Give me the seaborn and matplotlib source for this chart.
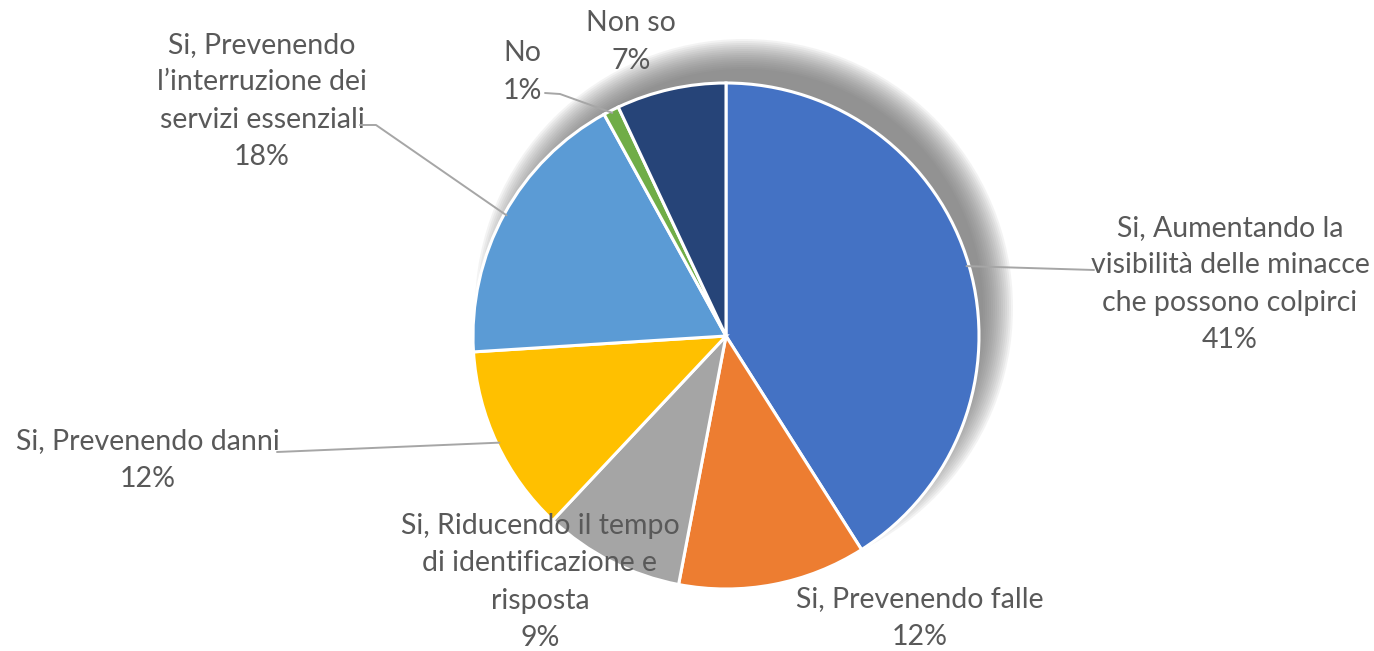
import numpy as np
import matplotlib
matplotlib.use("Agg")
import matplotlib.pyplot as plt
import seaborn as sns
from matplotlib.patches import Circle

# Data
labels = [
    "Si, Aumentando la\nvisibilità delle minacce\nche possono colpirci",
    "Si, Prevenendo falle",
    "Si, Riducendo il tempo\ndi identificazione e\nrisposta",
    "Si, Prevenendo danni",
    "Si, Prevenendo\nl\u2019interruzione dei\nservizi essenziali",
    "No",
    "Non so",
]
values = [41, 12, 9, 12, 18, 1, 7]
colors = ["#4472C4", "#ED7D31", "#A5A5A5", "#FFC000", "#5B9BD5", "#70AD47", "#264478"]

# label positions (pixels, top-left origin) and leader line start (None = no line)
label_pos = [(1230, 284), (920, 618), (540, 582), (148, 460), (262, 101), (522, 72), (631, 42)]
leader = [[(1094, 270)], None, None, [(277, 452)], [(360, 125), (376, 125)], [(545, 93), (560, 94)], None]

W, H = 1374, 651
cx, cy, r = 726, H - 336, 253

sns.set_theme(style="white")
plt.rcParams["font.family"] = ["Lato", "DejaVu Sans"]

fig = plt.figure(figsize=(W / 100, H / 100), dpi=100)
ax = fig.add_axes([0, 0, 1, 1])

# soft shadow behind the pie
sx, sy = cx + 18, cy + 28
for i in range(16):
    rr = r + 16 - i * 2.0
    ax.add_patch(Circle((sx, sy), rr, color="#707070", alpha=0.08, lw=0, zorder=0))

wedges, _ = ax.pie(values, colors=sns.color_palette(colors), startangle=90, counterclock=False,
                   center=(cx, cy), radius=r, frame=True,
                   wedgeprops=dict(edgecolor="white", linewidth=2.2))
for w in wedges:
    w.set_zorder(2)

ax.set_xlim(0, W)
ax.set_ylim(0, H)
ax.set_aspect("equal")
ax.axis("off")

for w, lab, v, pos, ld in zip(wedges, labels, values, label_pos, leader):
    tx, ty = pos[0], H - pos[1]
    ax.text(tx, ty, f"{lab}\n{v}%", ha="center", va="center", fontsize=20.5,
            color="#595959", linespacing=1.55, zorder=3)
    if ld is not None:
        ang = np.deg2rad((w.theta1 + w.theta2) / 2)
        ex, ey = cx + r * 0.99 * np.cos(ang), cy + r * 0.99 * np.sin(ang)
        xs = [p[0] for p in ld] + [ex]
        ys = [H - p[1] for p in ld] + [ey]
        ax.plot(xs, ys, color="#A6A6A6", lw=1.4, zorder=3)

fig.savefig("out.png", dpi=100)
